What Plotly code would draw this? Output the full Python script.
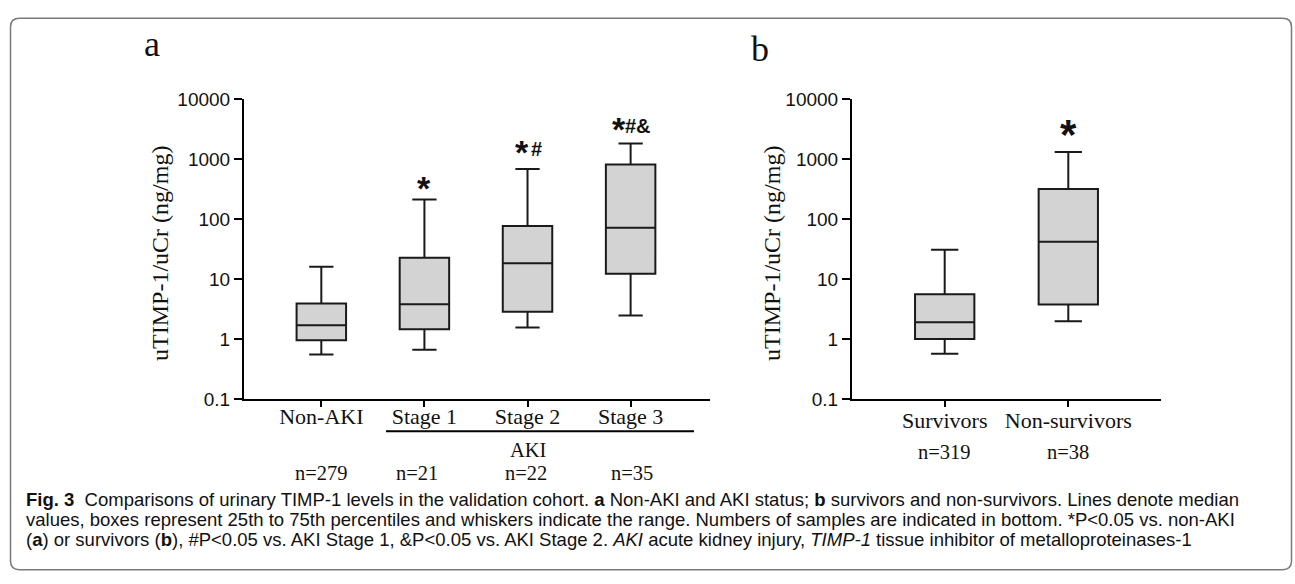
import plotly.graph_objects as go

W, H = 1295, 584

# ---------------- data ----------------
cats_a = ["Non-AKI", "Stage 1", "Stage 2", "Stage 3"]
min_a = [0.55, 0.66, 1.56, 2.46]
q1_a = [0.95, 1.46, 2.85, 12.3]
med_a = [1.70, 3.79, 18.4, 71.4]
q3_a = [3.93, 22.7, 76.9, 813]
max_a = [16.1, 212, 684, 1815]
n_a = ["n=279", "n=21", "n=22", "n=35"]
sig_a = ["", "*", "*#", "*#&"]

cats_b = ["Survivors", "Non-survivors"]
min_b = [0.568, 1.97]
q1_b = [1.0, 3.78]
med_b = [1.90, 41.8]
q3_b = [5.56, 319]
max_b = [30.8, 1318]
n_b = ["n=319", "n=38"]
sig_b = ["", "*"]

ytick_vals = [0.1, 1, 10, 100, 1000, 10000]
ytick_text = ["0.1", "1", "10", "100", "1000", "10000"]

caption = [
    "<b>Fig. 3</b>  Comparisons of urinary TIMP-1 levels in the validation cohort. <b>a</b> Non-AKI and AKI status; <b>b</b> survivors and non-survivors. Lines denote median",
    "values, boxes represent 25th to 75th percentiles and whiskers indicate the range. Numbers of samples are indicated in bottom. *P&lt;0.05 vs. non-AKI",
    "(<b>a</b>) or survivors (<b>b</b>), #P&lt;0.05 vs. AKI Stage 1, &amp;P&lt;0.05 vs. AKI Stage 2. <i>AKI</i> acute kidney injury, <i>TIMP-1</i> tissue inhibitor of metalloproteinases-1",
]

# ---------------- helpers ----------------
def px(x):
    return x / W

def py(y):
    return 1 - y / H

SERIF = "Liberation Serif, Times New Roman, serif"
SANS = "Liberation Sans, Arial, sans-serif"
INK = "#111111"
BOXLINE = "#1a1a1a"
FILL = "#d3d3d3"

fig = go.Figure()

fig.add_trace(go.Box(
    x=cats_a, q1=q1_a, median=med_a, q3=q3_a, lowerfence=min_a, upperfence=max_a,
    fillcolor=FILL, line=dict(color=BOXLINE, width=2), boxpoints=False,
    width=0.48, whiskerwidth=0.49, xaxis="x", yaxis="y", hoverinfo="skip",
    showlegend=False))

fig.add_trace(go.Box(
    x=cats_b, q1=q1_b, median=med_b, q3=q3_b, lowerfence=min_b, upperfence=max_b,
    fillcolor=FILL, line=dict(color=BOXLINE, width=2), boxpoints=False,
    width=0.48, whiskerwidth=0.46, xaxis="x2", yaxis="y2", hoverinfo="skip",
    showlegend=False))

y_dom = [py(403.5), py(92.5)]
xa_common = dict(type="category", showline=True, linecolor="black", linewidth=2,
                 ticks="outside", ticklen=6, tickwidth=2, tickcolor="black",
                 showgrid=False, zeroline=False,
                 tickfont=dict(family=SERIF, size=22, color=INK))
ya_common = dict(type="log", range=[-1, 4], tickvals=ytick_vals, ticktext=ytick_text,
                 showline=True, linecolor="black", linewidth=2,
                 ticks="outside", ticklen=8, tickwidth=2, tickcolor="black",
                 showgrid=False, zeroline=False, domain=y_dom,
                 tickfont=dict(family=SANS, size=19, color=INK))

fig.update_layout(
    width=W, height=H, autosize=False,
    margin=dict(l=0, r=0, t=0, b=0),
    paper_bgcolor="white", plot_bgcolor="white",
    xaxis=dict(xa_common, domain=[px(244), px(710)], range=[-0.75, 3.77], anchor="y",
               ticklabelstandoff=-9),
    yaxis=dict(ya_common, anchor="x"),
    xaxis2=dict(xa_common, domain=[px(852), px(1161)], range=[-0.75, 1.75], anchor="y2",
                ticklabelstandoff=-5),
    yaxis2=dict(ya_common, anchor="x2"),
)

ann = []

def text(t, x, y, size, family=SERIF, xref="paper", xshift=0, angle=0, xanchor="center"):
    ann.append(dict(text=t, x=x, y=py(y), xref=xref, yref="paper", xshift=xshift,
                    xanchor=xanchor, yanchor="middle", textangle=angle, showarrow=False,
                    font=dict(family=family, size=size, color=INK)))

# panel letters
text("a", px(152), 35.5, 36)
text("b", px(760), 40.5, 36)
# y titles
text("uTIMP-1/uCr (ng/mg)", px(160), 253, 24, angle=-90)
text("uTIMP-1/uCr (ng/mg)", px(772), 253, 24, angle=-90)

# significance marks: big asterisk + smaller symbols
def sig(label, cat, xref, glyph_y, star_size, star_dx, rest_dx):
    if not label:
        return
    text("<b>*</b>", cat, glyph_y + 0.14 * star_size, star_size, family=SANS,
         xref=xref, xshift=star_dx)
    rest = label[1:]
    if rest:
        text("<b>" + rest.replace("&", "&amp;") + "</b>", cat, glyph_y + 1, 20, family=SANS,
             xref=xref, xshift=rest_dx)

sig_geom_a = [None, (180, 0, 0), (143, -6, 9), (119, -12, 7)]
for c, s, g in zip(cats_a, sig_a, sig_geom_a):
    if s:
        sig(s, c, "x", g[0], 34, g[1], g[2])
sig_geom_b = [None, (123, 0, 0)]
for c, s, g in zip(cats_b, sig_b, sig_geom_b):
    if s:
        sig(s, c, "x2", g[0], 42, g[1], g[2])

# n labels
n_shift_a = [0, -7, -2, 1]
for c, t, sh in zip(cats_a, n_a, n_shift_a):
    text(t, c, 480, 20.5, xref="x", xshift=sh)
for c, t in zip(cats_b, n_b):
    text(t, c, 458, 20.5, xref="x2")

# AKI group label
text("AKI", px(528), 456, 20.5)

# caption
for i, line in enumerate(caption):
    text(line, px(24), 507.5 + 21 * i, 18.5, family="Liberation Sans, Arial, sans-serif",
         xanchor="left")

fig.update_layout(annotations=ann)

# shapes: AKI underline and rounded frame
shapes = [dict(type="line", xref="paper", yref="paper", x0=px(386), x1=px(694),
               y0=py(437), y1=py(437), line=dict(color="black", width=2))]
x0, y0, x1, y1, r = 10.5, 8.5, 1291.5, 580.5, 9
pts = [
    f"M {px(x0 + r)},{py(y0)}", f"L {px(x1 - r)},{py(y0)}",
    f"Q {px(x1)},{py(y0)} {px(x1)},{py(y0 + r)}", f"L {px(x1)},{py(y1 - r)}",
    f"Q {px(x1)},{py(y1)} {px(x1 - r)},{py(y1)}", f"L {px(x0 + r)},{py(y1)}",
    f"Q {px(x0)},{py(y1)} {px(x0)},{py(y1 - r)}", f"L {px(x0)},{py(y0 + r)}",
    f"Q {px(x0)},{py(y0)} {px(x0 + r)},{py(y0)}", "Z",
]
shapes.append(dict(type="path", xref="paper", yref="paper", path=" ".join(pts),
                   line=dict(color="#7a7a7a", width=1.5)))
fig.update_layout(shapes=shapes)

fig.write_html("out.html", config={"displayModeBar": False},
               post_script="document.body.style.margin='0px';document.body.style.overflow='hidden';")
